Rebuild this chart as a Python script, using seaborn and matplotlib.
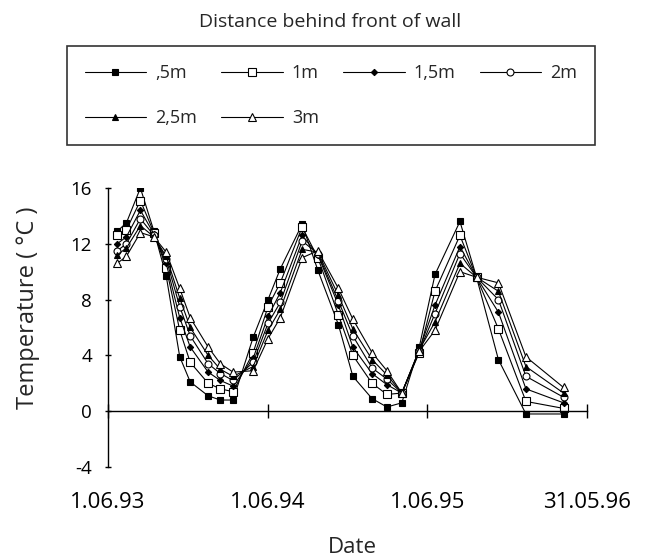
import pandas as pd
import matplotlib
matplotlib.use("Agg")
import matplotlib.pyplot as plt
import seaborn as sns

dates = ["1993-06-22", "1993-07-13", "1993-08-14", "1993-09-14", "1993-10-12",
         "1993-11-12", "1993-12-06", "1994-01-16", "1994-02-13", "1994-03-14",
         "1994-04-29", "1994-06-02", "1994-06-30", "1994-08-19", "1994-09-24",
         "1994-11-10", "1994-12-13", "1995-01-26", "1995-03-01", "1995-04-04",
         "1995-05-14", "1995-06-19", "1995-08-15", "1995-09-22", "1995-11-11",
         "1996-01-13", "1996-04-08"]

depth_05 = [12.9, 13.5, 16.0, 12.9, 9.7, 3.9, 2.1, 1.1, 0.8, 0.8, 5.3, 8.0, 10.2, 13.4,
            10.1, 6.2, 2.5, 0.9, 0.3, 0.6, 4.6, 9.8, 13.6, 9.6, 3.7, -0.2, -0.2]
depth_10 = [12.6, 13.0, 15.1, 12.8, 10.3, 5.8, 3.5, 2.0, 1.6, 1.4, 4.2, 7.5, 9.2, 13.2,
            11.0, 6.9, 4.0, 2.0, 1.2, 1.3, 4.2, 8.6, 12.6, 9.6, 5.9, 0.7, 0.2]
depth_15 = [12.0, 12.5, 14.4, 12.7, 10.6, 6.7, 4.6, 2.8, 2.2, 1.8, 3.8, 6.8, 8.5, 12.6,
            11.2, 7.6, 4.6, 2.7, 1.9, 1.3, 4.4, 7.6, 11.8, 9.6, 7.1, 1.6, 0.6]
depth_20 = [11.5, 12.0, 13.8, 12.6, 10.9, 7.5, 5.4, 3.4, 2.7, 2.2, 3.5, 6.3, 7.8, 12.2,
            11.3, 7.9, 5.4, 3.1, 2.3, 1.3, 4.3, 7.0, 11.3, 9.6, 8.0, 2.5, 1.0]
depth_25 = [11.2, 11.7, 13.3, 12.5, 11.1, 8.1, 6.0, 4.0, 3.0, 2.5, 3.2, 5.8, 7.3, 11.6,
            11.4, 8.3, 5.9, 3.7, 2.6, 1.3, 4.4, 6.4, 10.6, 9.6, 8.6, 3.2, 1.3]
depth_30 = [10.6, 11.1, 12.8, 12.5, 11.4, 8.8, 6.7, 4.6, 3.4, 2.8, 2.9, 5.2, 6.7, 11.0,
            11.5, 8.8, 6.6, 4.2, 2.9, 1.3, 4.3, 5.8, 10.0, 9.6, 9.2, 3.9, 1.7]

series_labels = [",5m", "1m", "1,5m", "2m", "2,5m", "3m"]
tick_dates = ["1993-06-01", "1994-06-01", "1995-06-01", "1996-05-31"]
tick_labels = ["1.06.93", "1.06.94", "1.06.95", "31.05.96"]
y_ticks = [-4, 0, 4, 8, 12, 16]

sns.set_style("ticks")
plt.rcParams["font.family"] = ["Open Sans", "DejaVu Sans"]

df = pd.DataFrame({"Date": pd.to_datetime(dates),
                   ",5m": depth_05, "1m": depth_10, "1,5m": depth_15,
                   "2m": depth_20, "2,5m": depth_25, "3m": depth_30})
df = df.melt(id_vars="Date", var_name="Depth", value_name="Temperature")

styles = {
    ",5m": dict(marker="s", markersize=4.5, markerfacecolor="black"),
    "1m": dict(marker="s", markersize=5.5, markerfacecolor="white"),
    "1,5m": dict(marker="D", markersize=3.2, markerfacecolor="black"),
    "2m": dict(marker="o", markersize=5, markerfacecolor="white"),
    "2,5m": dict(marker="^", markersize=4, markerfacecolor="black"),
    "3m": dict(marker="^", markersize=6, markerfacecolor="white"),
}

fig = plt.figure(figsize=(6.47, 5.59), dpi=100)
ax = fig.add_axes([0.167, 0.1646, 0.7398, 0.4991])

for name in series_labels:
    sns.lineplot(data=df[df["Depth"] == name], x="Date", y="Temperature", ax=ax,
                 color="black", linewidth=0.8, errorbar=None, label=name,
                 markeredgecolor="black", markeredgewidth=0.8, **styles[name])

ax.set_xlim(pd.Timestamp(tick_dates[0]), pd.Timestamp(tick_dates[-1]))
ax.set_ylim(-4, 16)
ax.set_xticks(pd.to_datetime(tick_dates))
ax.set_xticklabels(tick_labels)
ax.set_yticks(y_ticks)
ax.set_yticklabels([str(v) for v in y_ticks])

ax.spines["top"].set_visible(False)
ax.spines["right"].set_visible(False)
ax.spines["bottom"].set_position(("data", 0))
for sp in ["left", "bottom"]:
    ax.spines[sp].set_linewidth(1.0)
    ax.spines[sp].set_color("black")

ax.tick_params(axis="x", direction="inout", length=10, width=1, pad=53,
               colors="black", labelsize=16)
ax.tick_params(axis="y", direction="inout", length=5, width=1, pad=9,
               colors="black", labelsize=13.5)

ax.set_ylabel("Temperature ( °C )", fontsize=17)
ax.yaxis.set_label_coords(-0.167, 0.57)
ax.set_xlabel("Date", fontsize=16)
ax.xaxis.set_label_coords(0.51, -0.29)
ax.xaxis.label.set_va("center")
ax.yaxis.label.set_va("center")

# legend sits in its own box above the plot, filled row by row
handles, labels = ax.get_legend_handles_labels()
ax.get_legend().remove()
order = [0, 4, 1, 5, 2, 3]
leg = fig.legend([handles[i] for i in order], [labels[i] for i in order],
                 loc="lower left", bbox_to_anchor=(0.103, 0.7406, 0.817, 0.183),
                 mode="expand", ncol=4, fontsize=13, frameon=True, fancybox=False,
                 edgecolor="black", handlelength=3.4, handletextpad=0.5,
                 borderpad=1.0, labelspacing=1.5, borderaxespad=0)
leg.get_frame().set_linewidth(1.2)

fig.text(0.51, 0.961, "Distance behind front of wall", ha="center", va="center",
         fontsize=14, fontweight="medium")

fig.savefig("out.png", dpi=100)
